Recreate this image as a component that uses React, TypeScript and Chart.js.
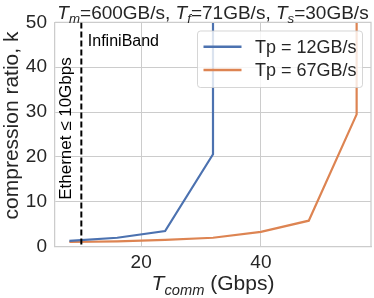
import React, { useEffect, useRef } from "react";
import { Chart, registerables } from "chart.js";

Chart.register(...registerables);

// ---- data ----
const xBlue = [8, 16, 24, 32, 32];
const kBlue = [1.3, 2.0, 3.5, 20.6, 1000];
const xOrange = [8, 16, 24, 32, 40, 48, 56, 56];
const kOrange = [1.05, 1.2, 1.5, 2.0, 3.3, 5.8, 29.5, 1000];
const seriesLabels = ["Tp = 12GB/s", "Tp = 67GB/s"];
const seriesColors = ["#4c72b0", "#dd8452"];
const xTicks = [20, 40];
const yTicks = [0, 10, 20, 30, 40, 50];
const xLimits = [5.6, 58.4];
const yLimits = [0, 50];
const ethernetLimit = 10;

const FONT = "'Liberation Sans', Arial, Helvetica, sans-serif";
const TEXT = "#262626";
const GRID = "#cccccc";

type Seg = { text: string; italic?: boolean; sub?: boolean };

function drawRich(ctx: CanvasRenderingContext2D, segs: Seg[], cx: number, y: number, size: number) {
  const fontFor = (s: Seg) => `${s.italic ? "italic " : ""}${s.sub ? size * 0.7 : size}px ${FONT}`;
  let total = 0;
  const widths = segs.map((s) => {
    ctx.font = fontFor(s);
    const w = ctx.measureText(s.text).width;
    total += w;
    return w;
  });
  let x = cx - total / 2;
  ctx.textAlign = "left";
  ctx.textBaseline = "alphabetic";
  ctx.fillStyle = TEXT;
  segs.forEach((s, i) => {
    ctx.font = fontFor(s);
    ctx.fillText(s.text, x, s.sub ? y + size * 0.22 : y);
    x += widths[i];
  });
}

const decorPlugin = {
  id: "decor",
  afterDatasetsDraw(chart: any) {
    const { ctx, chartArea: a, scales } = chart;
    const xs = scales.x;
    ctx.save();
    // right / top spines
    ctx.strokeStyle = GRID;
    ctx.lineWidth = 1.25;
    ctx.beginPath();
    ctx.moveTo(a.left, a.top);
    ctx.lineTo(a.right, a.top);
    ctx.lineTo(a.right, a.bottom);
    ctx.stroke();

    // Ethernet limit dashed line
    const ex = xs.getPixelForValue(ethernetLimit);
    ctx.beginPath();
    ctx.rect(a.left, a.top, a.right - a.left, a.bottom - a.top);
    ctx.clip();
    ctx.strokeStyle = "#000000";
    ctx.lineWidth = 2;
    ctx.setLineDash([6, 3]);
    ctx.beginPath();
    ctx.moveTo(ex, a.top);
    ctx.lineTo(ex, a.bottom);
    ctx.stroke();
    ctx.setLineDash([]);

    // annotations
    ctx.fillStyle = "#000000";
    ctx.font = `16px ${FONT}`;
    ctx.textAlign = "left";
    ctx.textBaseline = "alphabetic";
    ctx.fillText("InfiniBand", ex + 6.5, a.top + 23.5);

    ctx.save();
    ctx.translate(ex - 10, (a.top + a.bottom) / 2 - 6);
    ctx.rotate(-Math.PI / 2);
    ctx.font = `17px ${FONT}`;
    ctx.textAlign = "center";
    ctx.fillText("Ethernet \u2264 10Gbps", 0, 0);
    ctx.restore();

    // legend
    const lx = 197.5, ly = 31, lw = 165, lh = 56.5;
    ctx.fillStyle = "rgba(255,255,255,0.8)";
    ctx.strokeStyle = "rgba(204,204,204,0.8)";
    ctx.lineWidth = 1;
    ctx.beginPath();
    (ctx as any).roundRect(lx, ly, lw, lh, 3);
    ctx.fill();
    ctx.stroke();
    chart.data.datasets.forEach((ds: any, i: number) => {
      const yy = ly + 15.7 + i * 23.3;
      ctx.strokeStyle = ds.borderColor;
      ctx.lineWidth = 2.4;
      ctx.beginPath();
      ctx.moveTo(lx + 6, yy);
      ctx.lineTo(lx + 44, yy);
      ctx.stroke();
      ctx.fillStyle = TEXT;
      ctx.font = `18px ${FONT}`;
      ctx.textAlign = "left";
      ctx.textBaseline = "middle";
      ctx.fillText(ds.label, lx + 57.5, yy + 1);
    });
    ctx.restore();
  },
  afterDraw(chart: any) {
    const { ctx, chartArea: a } = chart;
    ctx.save();
    const cx = (a.left + a.right) / 2;
    drawRich(
      ctx,
      [
        { text: "T", italic: true },
        { text: "m", italic: true, sub: true },
        { text: "=600GB/s, " },
        { text: "T", italic: true },
        { text: "f", italic: true, sub: true },
        { text: "=71GB/s, " },
        { text: "T", italic: true },
        { text: "s", italic: true, sub: true },
        { text: "=30GB/s" },
      ],
      cx,
      18.5,
      19
    );
    drawRich(
      ctx,
      [
        { text: "T", italic: true },
        { text: "comm", italic: true, sub: true },
        { text: " (Gbps)" },
      ],
      cx,
      290,
      21
    );
    ctx.save();
    ctx.translate(17.5, 125.5);
    ctx.rotate(-Math.PI / 2);
    ctx.font = `21px ${FONT}`;
    ctx.fillStyle = TEXT;
    ctx.textAlign = "center";
    ctx.textBaseline = "alphabetic";
    ctx.fillText("compression ratio, k", 0, 0);
    ctx.restore();
    ctx.restore();
  },
};

export default function App() {
  const ref = useRef<HTMLCanvasElement>(null);
  useEffect(() => {
    if (!ref.current) return;
    const chart = new Chart(ref.current, {
      type: "line",
      data: {
        datasets: [
          {
            label: seriesLabels[0],
            data: xBlue.map((x, i) => ({ x, y: kBlue[i] })),
            borderColor: seriesColors[0],
            backgroundColor: seriesColors[0],
            borderWidth: 2.2,
            pointRadius: 0,
            tension: 0,
          },
          {
            label: seriesLabels[1],
            data: xOrange.map((x, i) => ({ x, y: kOrange[i] })),
            borderColor: seriesColors[1],
            backgroundColor: seriesColors[1],
            borderWidth: 2.2,
            pointRadius: 0,
            tension: 0,
          },
        ],
      },
      options: {
        responsive: false,
        animation: false,
        devicePixelRatio: 1,
        layout: { padding: { top: 22.4, right: 3, left: 0, bottom: 0 } },
        plugins: { legend: { display: false }, title: { display: false }, tooltip: { enabled: false } },
        scales: {
          x: {
            type: "linear",
            min: xLimits[0],
            max: xLimits[1],
            afterBuildTicks: (s: any) => {
              s.ticks = xTicks.map((v) => ({ value: v }));
            },
            afterFit: (s: any) => {
              s.height = 51.3;
            },
            grid: { color: GRID, lineWidth: 1, drawTicks: false },
            border: { color: GRID, width: 1.25 },
            ticks: { color: TEXT, font: { family: FONT, size: 19 }, padding: 5, maxRotation: 0 },
          },
          y: {
            type: "linear",
            min: yLimits[0],
            max: yLimits[1],
            afterBuildTicks: (s: any) => {
              s.ticks = yTicks.map((v) => ({ value: v }));
            },
            afterFit: (s: any) => {
              s.width = 55;
            },
            grid: { color: GRID, lineWidth: 1, drawTicks: false },
            border: { color: GRID, width: 1.25 },
            ticks: { color: TEXT, font: { family: FONT, size: 19 }, padding: 8 },
          },
        },
      },
      plugins: [decorPlugin],
    });
    return () => chart.destroy();
  }, []);
  return (
    <div style={{ position: "fixed", left: 0, top: 0, width: 374, height: 298, background: "#fff" }}>
      <canvas ref={ref} width={374} height={298} style={{ width: 374, height: 298, display: "block" }} />
    </div>
  );
}
